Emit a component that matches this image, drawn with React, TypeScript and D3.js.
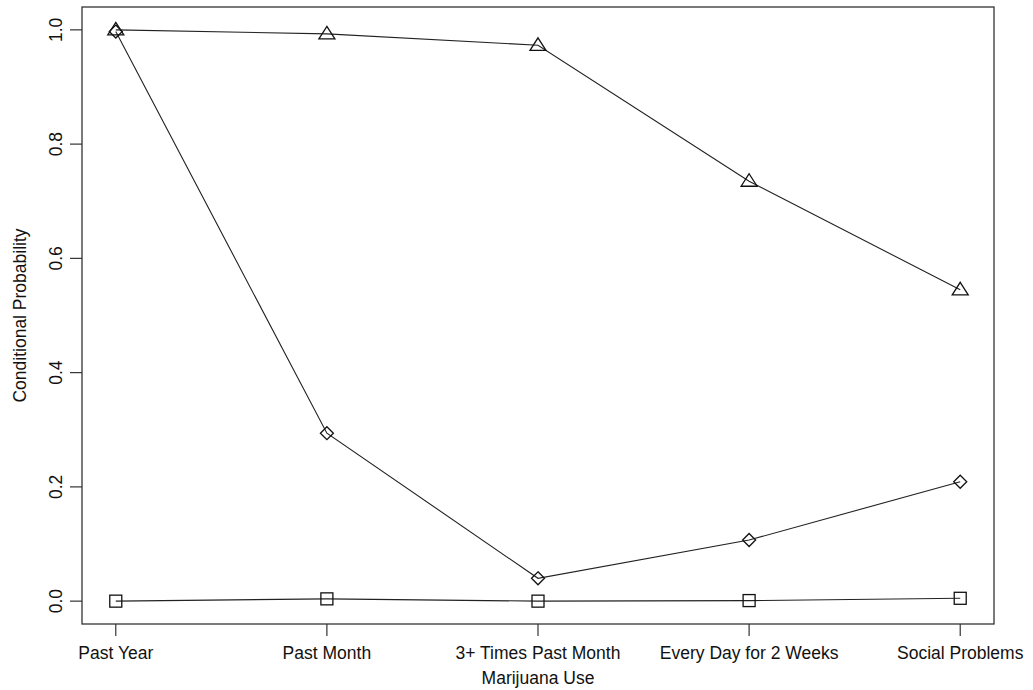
import React from 'react';
import * as d3 from 'd3';

const categories = ['Past Year', 'Past Month', '3+ Times Past Month', 'Every Day for 2 Weeks', 'Social Problems'];
const triangleSeries = [1.0, 0.993, 0.973, 0.735, 0.545];
const diamondSeries = [0.997, 0.294, 0.040, 0.107, 0.209];
const squareSeries = [0.0, 0.004, 0.0, 0.001, 0.005];
const yTicks = ['0.0', '0.2', '0.4', '0.6', '0.8', '1.0'];

const W = 1033;
const H = 690;
const box = { left: 82, right: 994, top: 7, bottom: 624 };
const font = '"Liberation Sans", Arial, Helvetica, sans-serif';
const fs = 17.5;

const App = () => {
  const n = categories.length;
  const pad = (n - 1) * 0.04;
  const x = d3.scaleLinear().domain([1 - pad, n + pad]).range([box.left, box.right]);
  const y = d3.scaleLinear().domain([-0.04, 1.04]).range([box.bottom, box.top]);

  const line = d3.line<number>()
    .x((_, i) => x(i + 1))
    .y(d => y(d));

  const stroke = '#222';

  const triangle = (cx: number, cy: number, k: number) => {
    const s = 8;
    return <path key={k} d={`M${cx},${cy - 7.5} L${cx + s},${cy + 5} L${cx - s},${cy + 5} Z`} fill="none" stroke="#111" strokeWidth={1.3} />;
  };
  const diamond = (cx: number, cy: number, k: number) => {
    const s = 6.5;
    return <path key={k} d={`M${cx},${cy - s} L${cx + s},${cy} L${cx},${cy + s} L${cx - s},${cy} Z`} fill="none" stroke="#111" strokeWidth={1.3} />;
  };
  const square = (cx: number, cy: number, k: number) => {
    const s = 6;
    return <rect key={k} x={cx - s} y={cy - s} width={2 * s} height={2 * s} fill="none" stroke="#111" strokeWidth={1.3} />;
  };

  return (
    <svg width={W} height={H} style={{ position: 'absolute', left: 0, top: 0, background: '#fff' }} fontFamily={font}>
      <rect x={box.left} y={box.top} width={box.right - box.left} height={box.bottom - box.top} fill="none" stroke="#333" strokeWidth={1.3} />

      {/* y axis */}
      {yTicks.map(t => {
        const yy = y(+t);
        return (
          <g key={t}>
            <line x1={box.left - 12} x2={box.left} y1={yy} y2={yy} stroke="#333" strokeWidth={1.2} />
            <text x={0} y={0} transform={`translate(${box.left - 20},${yy}) rotate(-90)`} textAnchor="middle" fontSize={fs} fill="#111">{t}</text>
          </g>
        );
      })}
      <text transform={`translate(26,${(box.top + box.bottom) / 2}) rotate(-90)`} textAnchor="middle" fontSize={fs} fill="#111">Conditional Probability</text>

      {/* x axis */}
      {categories.map((c, i) => (
        <g key={c}>
          <line x1={x(i + 1)} x2={x(i + 1)} y1={box.bottom} y2={box.bottom + 12} stroke="#333" strokeWidth={1.2} />
          <text x={x(i + 1)} y={659} textAnchor="middle" fontSize={fs} fill="#111">{c}</text>
        </g>
      ))}
      <text x={(x(1) + x(n)) / 2} y={684} textAnchor="middle" fontSize={fs} fill="#111">Marijuana Use</text>

      {/* series */}
      <path d={line(triangleSeries) || ''} fill="none" stroke={stroke} strokeWidth={1.1} />
      <path d={line(diamondSeries) || ''} fill="none" stroke={stroke} strokeWidth={1.1} />
      <path d={line(squareSeries) || ''} fill="none" stroke={stroke} strokeWidth={1.1} />
      {triangleSeries.map((v, i) => triangle(x(i + 1), y(v), i))}
      {diamondSeries.map((v, i) => diamond(x(i + 1), y(v), i))}
      {squareSeries.map((v, i) => square(x(i + 1), y(v), i))}
    </svg>
  );
};

export default App;
